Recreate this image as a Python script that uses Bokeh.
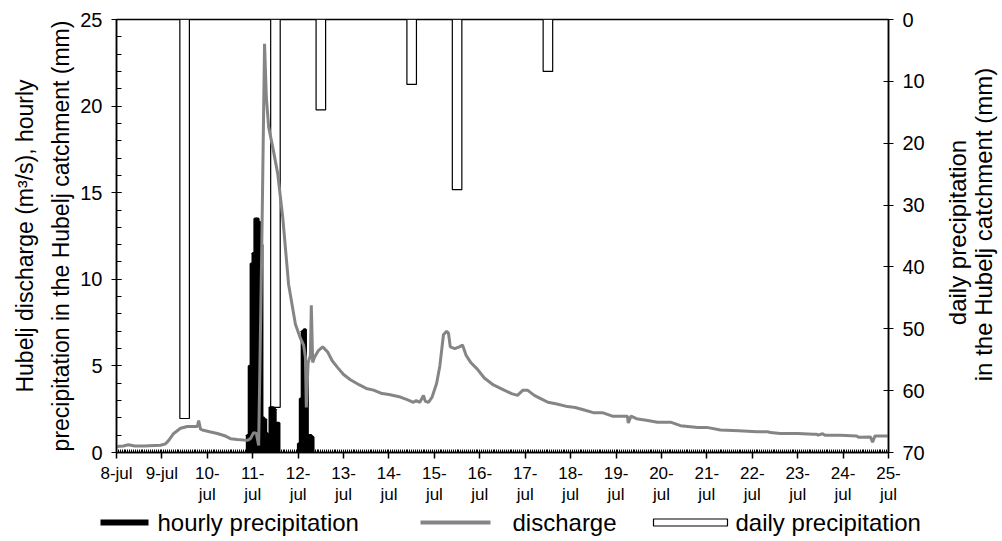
from bokeh.plotting import figure
from bokeh.models import Range1d, LinearAxis, SingleIntervalTicker
from bokeh.layouts import column, row
from bokeh.embed import file_html
from bokeh.resources import INLINE
from bokeh.core.properties import value
import math

# ---------------- data ----------------
day_labels = ["8-jul", "9-jul", "10-\njul", "11-\njul", "12-\njul", "13-\njul",
              "14-\njul", "15-\njul", "16-\njul", "17-\njul", "18-\njul", "19-\njul",
              "20-\njul", "21-\njul", "22-\njul", "23-\njul", "24-\njul", "25-\njul"]

# discharge (days since 8-jul 00:00, m3/s)
q_t = [0.0, 0.15, 0.26, 0.4, 0.6, 0.97, 1.08, 1.15, 1.26, 1.41, 1.56, 1.78, 1.81,
       1.85, 1.89, 2.05, 2.22, 2.4, 2.51, 2.66, 2.88, 2.95, 3.02, 3.08, 3.13, 3.2,
       3.26, 3.3, 3.35, 3.45, 3.55, 3.66, 3.79, 3.94, 4.05, 4.12, 4.16, 4.18, 4.22,
       4.27, 4.29, 4.32, 4.36, 4.45, 4.54, 4.65, 4.75, 4.87, 5.0, 5.15, 5.35, 5.5,
       5.66, 5.85, 6.0, 6.25, 6.4, 6.54, 6.6, 6.68, 6.76, 6.8, 6.87, 6.95, 7.05,
       7.12, 7.2, 7.27, 7.31, 7.35, 7.45, 7.55, 7.62, 7.7, 7.8, 7.95, 8.1, 8.3, 8.5,
       8.7, 8.83, 8.95, 9.05, 9.2, 9.35, 9.5, 9.7, 9.93, 10.1, 10.3, 10.5, 10.7,
       10.92, 11.15, 11.25, 11.27, 11.33, 11.45, 11.7, 11.91, 12.2, 12.42, 12.8,
       13.0, 13.3, 13.7, 14.1, 14.34, 14.4, 14.62, 15.0, 15.35, 15.42, 15.45, 15.55,
       15.6, 15.94, 16.3, 16.34, 16.6, 16.65, 16.7, 17.0]
q_v = [0.35, 0.38, 0.45, 0.38, 0.38, 0.42, 0.5, 0.7, 1.1, 1.4, 1.5, 1.5, 1.85,
       1.35, 1.3, 1.2, 1.1, 0.95, 0.8, 0.75, 0.7, 0.8, 1.15, 1.1, 0.4, 12.0,
       23.6, 20.5, 18.8, 17.5, 16.1, 13.6, 9.7, 7.4, 6.6, 6.2, 5.5, 2.6, 5.2,
       5.6, 8.5, 5.2, 5.5, 5.9, 6.1, 5.8, 5.3, 4.9, 4.5, 4.2, 3.9, 3.7,
       3.6, 3.4, 3.35, 3.2, 3.05, 2.9, 3.0, 2.9, 3.3, 2.95, 2.9, 3.2, 4.0,
       5.0, 6.8, 7.0, 6.9, 6.1, 6.0, 6.1, 6.2, 5.6, 5.2, 4.8, 4.3, 3.9, 3.65,
       3.4, 3.3, 3.6, 3.6, 3.3, 3.1, 2.9, 2.8, 2.65, 2.6, 2.45, 2.3, 2.3,
       2.1, 2.1, 2.1, 1.7, 2.1, 1.95, 1.85, 1.75, 1.75, 1.55, 1.45,
       1.45, 1.3, 1.25, 1.2, 1.2, 1.15, 1.1, 1.1, 1.05, 1.05, 1.0, 1.08,
       1.0, 1.0, 0.95, 0.88, 0.9, 0.6, 0.95, 0.95]

# hourly precipitation (hour index since 8-jul 00:00, mm)
hourly_h = [69, 70, 71, 72, 73, 74, 75, 76, 77, 78, 79, 80, 81, 82, 83, 84, 85,
            96, 97, 98, 99, 100, 101, 102, 103]
hourly_mm = [1.0, 5.0, 10.9, 11.5, 13.5, 13.5, 13.3, 12.0, 2.0, 1.9, 1.1, 1.0,
             2.6, 2.6, 2.5, 1.7, 1.7,
             0.5, 3.1, 7.0, 7.1, 5.2, 1.0, 1.0, 0.9]

# daily precipitation (day centre, mm)
daily_day = [1.5, 3.5, 4.5, 6.5, 7.5, 9.5]
daily_mm = [64.5, 62.7, 14.6, 10.5, 27.5, 8.4]

legend_labels = ["hourly precipitation", "discharge", "daily precipitation"]
left_title = "Hubelj discharge (m³/s), hourly\nprecipitation in the Hubelj catchment (mm)"
right_title = ["daily precipitation", "in the Hubelj catchment (mm)"]

FONT = "Liberation Sans"
GRAY = "#858585"
MAIN_H = 509
LEG_H = 541 - MAIN_H

# ---------------- main figure ----------------
p = figure(width=930, height=MAIN_H, output_backend="svg", toolbar_location=None,
           x_range=Range1d(0, 17), y_range=Range1d(0, 25),
           min_border_left=116, min_border_right=42, min_border_top=19,
           min_border_bottom=MAIN_H - 452)
p.extra_y_ranges = {"daily": Range1d(70, 0)}
p.xgrid.visible = False
p.ygrid.visible = False
p.outline_line_color = "black"
p.outline_line_width = 1.5

# x axis
xa = p.xaxis[0]
xa.ticker = SingleIntervalTicker(interval=1, num_minor_ticks=24)
xa.major_label_overrides = {i: lab for i, lab in enumerate(day_labels)}
xa.major_label_text_font = FONT
xa.major_label_text_font_size = "17px"
xa.major_label_text_color = "black"
xa.major_label_text_line_height = 1.15
xa.major_tick_out = 6
xa.major_tick_in = 0
xa.minor_tick_in = 3
xa.minor_tick_out = 0
xa.major_label_standoff = 5
xa.axis_line_width = 1.5
xa.major_tick_line_width = 1.5
xa.minor_tick_line_width = 1

# left y axis
ya = p.yaxis[0]
ya.ticker = SingleIntervalTicker(interval=5, num_minor_ticks=5)
ya.major_label_text_font = FONT
ya.major_label_text_font_size = "20px"
ya.major_label_text_color = "black"
ya.major_tick_out = 5
ya.major_tick_in = 5
ya.minor_tick_in = 5
ya.minor_tick_out = 0
ya.major_label_standoff = 9
ya.axis_line_width = 1.5
ya.axis_label = left_title
ya.axis_label_text_font = FONT
ya.axis_label_text_font_size = "23px"
ya.axis_label_text_font_style = "normal"
ya.axis_label_text_color = "black"
ya.axis_label_text_line_height = 1.4
ya.axis_label_standoff = 3

# right y axis (daily precipitation, inverted)
ra = LinearAxis(y_range_name="daily",
                ticker=SingleIntervalTicker(interval=10, num_minor_ticks=0))
ra.major_label_text_font = FONT
ra.major_label_text_font_size = "20px"
ra.major_label_text_color = "black"
ra.major_tick_out = 5
ra.major_tick_in = 5
ra.minor_tick_in = 0
ra.minor_tick_out = 0
ra.major_label_standoff = 9
ra.axis_line_width = 1.5
p.add_layout(ra, "right")

# daily precipitation bars (hanging from top, right axis)
p.vbar(x=daily_day, width=0.21, top=[0] * len(daily_mm), bottom=daily_mm,
       y_range_name="daily", fill_color="white", line_color="black",
       line_width=1.2)

# hourly precipitation
hx = [(h + 0.5) / 24.0 for h in hourly_h]
p.vbar(x=hx, width=1 / 24.0, top=hourly_mm, bottom=0, fill_color="black",
       line_color="black", line_width=2.5)

# discharge
p.line(q_t, q_v, line_color=GRAY, line_width=3)

# ---------------- right title strip ----------------
rt = figure(width=72, height=MAIN_H, output_backend="svg", toolbar_location=None,
            x_range=Range1d(0, 72), y_range=Range1d(0, MAIN_H),
            x_axis_type=None, y_axis_type=None,
            min_border_left=0, min_border_right=0, min_border_top=0,
            min_border_bottom=0)
rt.frame_align = False
rt.outline_line_color = None
rt.xgrid.visible = False
rt.ygrid.visible = False
rt.text(x=[27, 53], y=[MAIN_H - 232, MAIN_H - 224], text=right_title,
        angle=math.pi / 2, text_font=value(FONT), text_font_size="24px",
        text_color="black", text_align="center", text_baseline="alphabetic")

# ---------------- legend strip ----------------
lg = figure(width=1002, height=LEG_H, output_backend="svg", toolbar_location=None,
            x_range=Range1d(0, 1002), y_range=Range1d(0, LEG_H),
            x_axis_type=None, y_axis_type=None,
            min_border_left=0, min_border_right=0, min_border_top=0,
            min_border_bottom=0)
lg.frame_align = False
lg.outline_line_color = None
lg.xgrid.visible = False
lg.ygrid.visible = False
yc = LEG_H - (522 - MAIN_H)
lg.line([100, 148], [yc, yc], line_color="black", line_width=6)
lg.line([420, 490], [yc, yc], line_color=GRAY, line_width=4)
lg.quad(left=[653], right=[727], bottom=[yc - 3.5], top=[yc + 3.5],
        fill_color="white", line_color="black", line_width=1.2)
lg.text(x=[157, 512, 735], y=[yc, yc, yc], text=legend_labels,
        text_font=value(FONT), text_font_size="24px", text_color="black",
        text_baseline="middle", text_align="left")

layout = column(row(p, rt, spacing=0), lg, spacing=0)
open("out.html", "w").write(file_html(layout, INLINE))
